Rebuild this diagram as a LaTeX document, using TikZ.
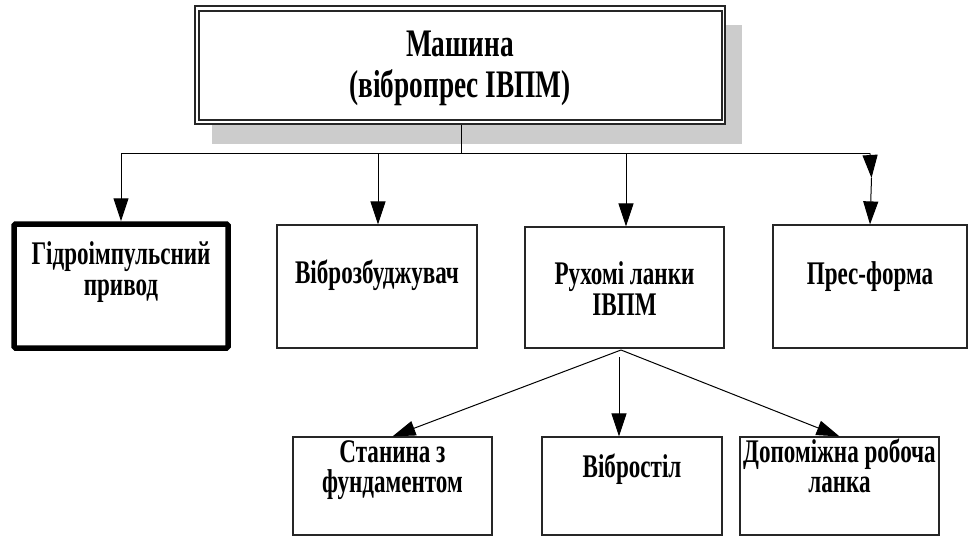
\documentclass[tikz,border=0pt]{standalone}
\usepackage{fontspec}
\newfontfamily\labfont[FakeStretch=0.7]{Liberation Serif}
\usetikzlibrary{arrows.meta}
\begin{document}
\begin{tikzpicture}[x=1pt,y=-1pt,
  box/.style={draw=black!85,line width=1.2pt,rectangle,inner sep=0pt},
  thickbox/.style={draw=black,line width=5.5pt,rounded corners=1.5pt,rectangle,inner sep=0pt},
  lab/.style={font=\labfont\bfseries\fontsize{33}{31}\selectfont,anchor=base,inner sep=0pt},
  ttl/.style={font=\labfont\bfseries\fontsize{39}{40}\selectfont,anchor=base,inner sep=0pt},
  conn/.style={draw=black,line width=1pt},
  arr/.style={conn,-{Triangle[length=23pt,width=15pt]}}
]
\useasboundingbox (0,0) rectangle (968,540);
% top box with shadow and double border
\fill[black!20] (212,25) rectangle (742,144);
\node[box,fill=white,minimum width=530pt,minimum height=118pt] (top) at (460,65) {};
\node[box,minimum width=523pt,minimum height=109pt] (topin) at (460.5,65.5) {};
\node[ttl] (t1) at (460,57) {Машина};
\node[ttl] (t2) at (460,98) {(вібропрес ІВПМ)};
% second row boxes
\node[thickbox,minimum width=214pt,minimum height=124pt] (hyd) at (121,286) {};
\node[box,minimum width=200pt,minimum height=123pt] (vib) at (377,286.5) {};
\node[box,minimum width=199pt,minimum height=121pt] (ruh) at (624.5,287.5) {};
\node[box,minimum width=194pt,minimum height=123pt] (pres) at (870,286.5) {};
% third row boxes
\node[box,minimum width=199pt,minimum height=98pt] (stan) at (392.5,486) {};
\node[box,minimum width=180pt,minimum height=98pt] (stil) at (632,486) {};
\node[box,minimum width=199pt,minimum height=98pt] (dop) at (839.5,486) {};
% labels
\node[lab] (l1a) at (121,264) {Гідроімпульсний};
\node[lab] (l1b) at (121,295) {привод};
\node[lab] (l2) at (377,283) {Віброзбуджувач};
\node[lab] (l3a) at (624.5,284) {Рухомі ланки};
\node[lab] (l3b) at (624.5,315) {ІВПМ};
\node[lab] (l4) at (870,284) {Прес-форма};
\node[lab] (l5a) at (392.5,462) {Станина з};
\node[lab] (l5b) at (392.5,492) {фундаментом};
\node[lab] (l6) at (632,477) {Вібростіл};
\node[lab] (l7a) at (839.5,462) {Допоміжна робоча};
\node[lab] (l7b) at (839.5,492) {ланка};
% bus
\coordinate (trunk) at (461.5,153.5);
\coordinate (busL) at (121,153.5);
\coordinate (busR) at (870,153.5);
\coordinate (bv) at (378,153.5);
\coordinate (br) at (626,153.5);
\coordinate (pmid) at (871.5,178);
\coordinate (apex) at (621,350);
\coordinate (stilS) at (619,357);
\draw[conn] (top.south -| trunk) -- (trunk);
\draw[conn] (busL) -- (busR);
\draw[arr] (busL) -- (hyd.north);
\draw[arr] (bv) -- (bv |- vib.north);
\draw[arr] (br) -- (br |- ruh.north);
\draw[arr] (busR) -- (pmid);
\draw[arr] (pmid) -- (pres.north);
\draw[arr] (apex) -- (stan.north);
\draw[arr] (stilS) -- (stilS |- stil.north);
\draw[arr] (apex) -- (dop.north);
\end{tikzpicture}
\end{document}
